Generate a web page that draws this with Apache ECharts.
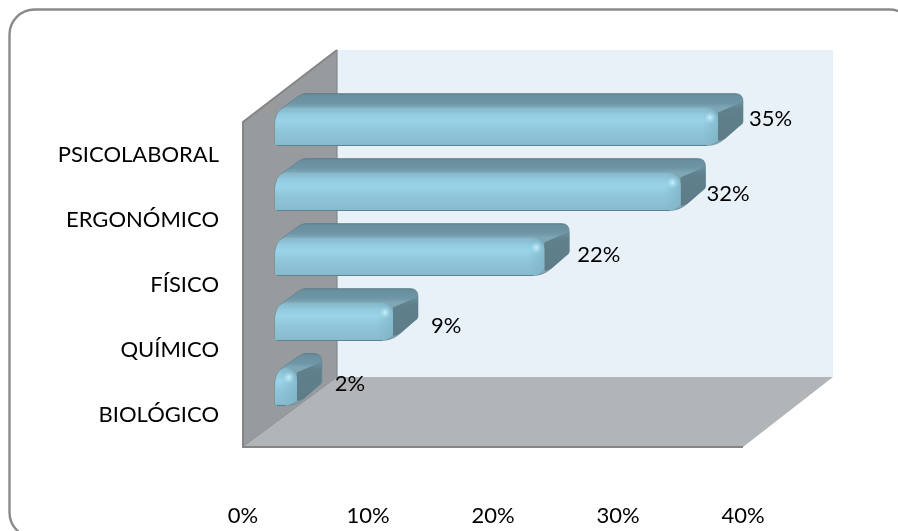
<!DOCTYPE html>
<html>
<head>
<meta charset="utf-8">
<style>html,body{margin:0;padding:0;background:#fff}#c{width:898px;height:531px}</style>
<script src="https://cdn.jsdelivr.net/npm/echarts@6/dist/echarts.min.js"></script>
</head>
<body>
<div id="c"></div>
<script>
const categories = ['BIOLÓGICO', 'QUÍMICO', 'FÍSICO', 'ERGONÓMICO', 'PSICOLABORAL'];
const barLengths = [1.3, 9, 21.1, 32, 35];
const valueLabels = ['2%', '9%', '22%', '32%', '35%'];
const xTicks = [0, 10, 20, 30, 40];
const labelNudges = [[13, -22], [13, -15], [8, -21], [1, -17], [6, -27]];

const FONT = 'Lato, "Open Sans", sans-serif';
const lg = (x0, y0, x1, y1, stops) => ({
  type: 'linear', global: true, x: x0, y: y0, x2: x1, y2: y1,
  colorStops: stops.map(s => ({ offset: s[0], color: s[1] }))
});

function renderWalls(params, api) {
  const g = params.coordSys;
  const L = g.x, R = g.x + g.width, T = g.y, B = g.y + g.height;
  const dx = 94, dy = 70;
  return {
    type: 'group',
    children: [
      { type: 'rect', shape: { x: L + dx, y: T - dy - 2, width: R - L - 4, height: B - T + 2 },
        style: { fill: '#e9f1f8' } },
      { type: 'polygon', shape: { points: [[L, T], [L + dx, T - dy - 2], [L + dx, B - dy], [L, B]] },
        style: { fill: '#979b9d' } },
      { type: 'polygon', shape: { points: [[L, B], [R, B], [R + 90, B - dy], [L + dx, B - dy]] },
        style: { fill: '#b1b5b8' } },
      { type: 'polyline', shape: { points: [[L + dx, T - dy - 2], [L, T], [L, B], [R, B]] },
        style: { stroke: '#858585', lineWidth: 2, fill: 'none' } },
      { type: 'line', shape: { x1: L + dx, y1: T - dy - 2, x2: L + dx, y2: B - dy },
        style: { stroke: '#85898b', lineWidth: 1.2 } },
      { type: 'line', shape: { x1: L + 1, y1: B - 1, x2: L + dx, y2: B - dy },
        style: { stroke: '#8f9395', lineWidth: 1 } }
    ]
  };
}

function renderBar(params, api) {
  const v = api.value(0), i = api.value(1);
  const base = api.coord([0, i]);
  const tip = api.coord([v, i]);
  const X = base[0] + 32;
  const Rt = tip[0] + 62.5;
  const B = Math.round(tip[1] - 9.5) + 0.5;
  const T = B - 52;
  const FT = B - 38;
  const fr = Rt - 25;
  const sil = `M${X},${B - 2}L${X},${B - 22}C${X},${B - 30} ${X + 4},${B - 35} ${X + 8},${B - 38}` +
    `L${X + 23},${B - 49}Q${X + 27},${T} ${X + 31},${T}L${Rt - 8},${T}Q${Rt},${T} ${Rt},${T + 8}` +
    `L${Rt},${B - 24}Q${Rt},${B - 22} ${Rt - 3},${B - 20}L${Rt - 18},${B - 7}Q${Rt - 26},${B} ${Rt - 36},${B}L${X + 3},${B}Q${X},${B} ${X},${B - 2}Z`;
  const face = `M${X},${B - 2}L${X},${B - 20}C${X},${B - 30} ${X + 4},${FT} ${X + 12},${FT}` +
    `L${fr - 14},${FT}C${fr - 5},${FT} ${fr},${B - 32} ${fr},${B - 26}L${fr},${B - 6}` +
    `Q${fr - 6},${B} ${fr - 12},${B}L${X + 3},${B}Q${X},${B} ${X},${B - 2}Z`;
  const endF = `M${fr},${B - 33}L${Rt - 2},${T + 9}Q${Rt},${T + 8} ${Rt},${T + 10}L${Rt},${B - 24}` +
    `Q${Rt},${B - 22} ${Rt - 3},${B - 20}L${Rt - 18},${B - 7}Q${fr},${B - 3} ${fr},${B - 6}Z`;
  const n = labelNudges[params.dataIndex];
  return {
    type: 'group',
    children: [
      { type: 'path', shape: { pathData: sil },
        style: { fill: lg(0, T, 0, FT, [[0, '#5c7e8b'], [0.12, '#698f9e'], [0.7, '#6f96a6'], [1, '#7ea6b5']]),
                 stroke: 'rgba(85,120,135,0.55)', lineWidth: 1 } },
      { type: 'path', shape: { pathData: endF },
        style: { fill: lg(0, T + 6, 0, B - 6, [[0, '#6f95a3'], [0.25, '#5f808c'], [1, '#5d7c87']]) } },
      { type: 'path', shape: { pathData: face },
        style: { fill: lg(0, FT, 0, B, [[0, '#84b5c7'], [0.18, '#92cadf'], [0.35, '#9ad4e9'], [0.6, '#90c6da'], [1, '#88bacd']]) } },
      { type: 'path', shape: { pathData: face },
        style: { fill: lg(fr - 16, 0, fr, 0, [[0, 'rgba(125,180,198,0)'], [1, 'rgba(125,178,196,0.7)']]) } },
      { type: 'circle', shape: { cx: fr - 8, cy: B - 28, r: 6 },
        style: { fill: { type: 'radial', x: 0.5, y: 0.5, r: 0.5,
          colorStops: [{ offset: 0, color: 'rgba(205,242,252,0.95)' }, { offset: 1, color: 'rgba(175,225,240,0)' }] } } },
      { type: 'line', shape: { x1: X + 2, y1: B, x2: Math.max(X + 2, Rt - 36), y2: B },
        style: { stroke: '#5d8292', lineWidth: 1.2 } },
      { type: 'text', style: { text: valueLabels[params.dataIndex], x: Rt + n[0], y: B + n[1],
          fill: '#000', font: '22px ' + FONT, align: 'left', verticalAlign: 'middle' } }
    ]
  };
}

const chart = echarts.init(document.getElementById('c'), null, { renderer: 'canvas' });
chart.setOption({
  animation: false,
  backgroundColor: '#fff',
  graphic: [{
    type: 'rect', z: 100, silent: true,
    shape: { x: 9.5, y: 9.5, width: 905, height: 528, r: 25 },
    style: { fill: 'none', stroke: '#8a8a8a', lineWidth: 2.4 }
  }],
  grid: { left: 243, right: 155, top: 122, bottom: 84, containLabel: false },
  xAxis: {
    type: 'value', min: 0, max: 40, interval: 10,
    axisLine: { show: false }, axisTick: { show: false }, splitLine: { show: false },
    axisLabel: { formatter: '{value}%', color: '#000', fontSize: 22, fontFamily: FONT, margin: 58 }
  },
  yAxis: {
    type: 'category', data: categories,
    axisLine: { show: false }, axisTick: { show: false }, splitLine: { show: false },
    axisLabel: { color: '#000', fontSize: 22, fontFamily: FONT, margin: 24, padding: [3, 0, 0, 0] }
  },
  series: [
    { type: 'custom', name: 'walls', silent: true, z: 1, renderItem: renderWalls, data: [[0, 0]], encode: { x: 0, y: 1 } },
    { type: 'custom', name: 'barras', z: 2, renderItem: renderBar,
      data: barLengths.map((v, i) => [v, i]), encode: { x: 0, y: 1 } }
  ]
});
</script>
</body>
</html>
